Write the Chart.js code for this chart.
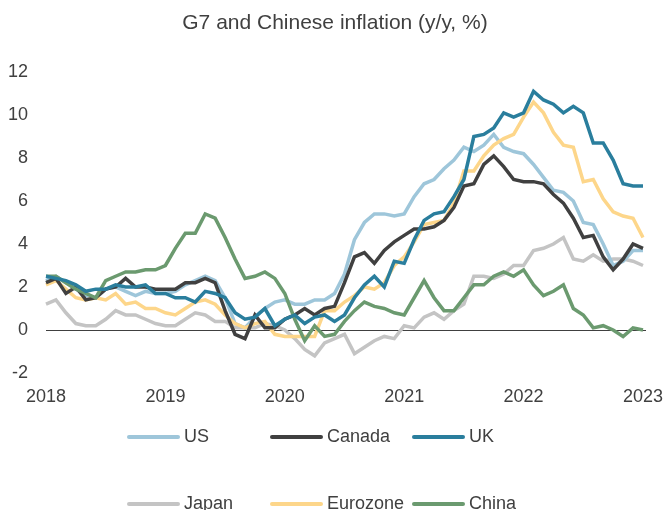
<!DOCTYPE html>
<html>
<head>
<meta charset="utf-8">
<script src="https://cdn.jsdelivr.net/npm/chart.js@4"></script>
<style>
  html, body { margin: 0; padding: 0; background: #fff; }
  #wrap { position: relative; width: 663px; height: 510px; overflow: hidden; font-family: "Liberation Sans", Arial, sans-serif; }
  canvas { position: absolute; left: 0; top: 0; }
  #title { position: absolute; left: 0; top: 9px; width: 670px; text-align: center; font-size: 21px; line-height: 26px; color: #404040; white-space: nowrap; }
  .lg { position: absolute; display: flex; align-items: center; font-size: 18px; color: #404040; white-space: nowrap; }
  .sw { width: 53px; height: 4px; border-radius: 2px; margin-right: 4px; }
</style>
</head>
<body>
<div id="wrap">
  <canvas id="c" width="663" height="510"></canvas>
  <div id="title"></div>
  <div id="legend"></div>
</div>
<script>
// Monthly y/y CPI, 61 months
const months = [];
for (let i = 0; i < 61; i++) months.push('m' + i);
const yearTicks = ['2018', '2019', '2020', '2021', '2022', '2023'];
const chartTitle = 'G7 and Chinese inflation (y/y, %)';

const us = [2.3,2.5,2.2,1.9, 1.6,1.5,1.9,2.0,1.8,1.6,1.8,1.7,1.7,1.8,2.1,2.3, 2.5,2.3,1.5,0.3,0.1,0.6,1.0,1.3,1.4,1.2,1.2,1.4, 1.4,1.7,2.6,4.2,5.0,5.4,5.4,5.3,5.4,6.2,6.8,7.0, 7.5,7.9,8.5,8.3,8.6,9.1,8.5,8.3,8.2,7.7,7.1,6.5, 6.4,6.0,5.0,4.9,4.0,3.0,3.2,3.7,3.7];
const canada = [2.2,2.4,1.7,2.0, 1.4,1.5,1.9,2.0,2.4,2.0,2.0,1.9,1.9,1.9,2.2,2.2, 2.4,2.2,0.9,-0.2,-0.4,0.7,0.1,0.1,0.5,0.7,1.0,0.7, 1.0,1.1,2.2,3.4,3.6,3.1,3.7,4.1,4.4,4.7,4.7,4.8, 5.1,5.7,6.7,6.8,7.7,8.1,7.6,7.0,6.9,6.9,6.8,6.3, 5.9,5.2,4.3,4.4,3.4,2.8,3.3,4.0,3.8];
const uk = [2.5,2.4,2.3,2.1, 1.8,1.9,1.9,2.1,2.0,2.0,2.1,1.7,1.7,1.5,1.5,1.3, 1.8,1.7,1.5,0.8,0.5,0.6,1.0,0.2,0.5,0.7,0.3,0.6, 0.7,0.4,0.7,1.5,2.1,2.5,2.0,3.2,3.1,4.2,5.1,5.4, 5.5,6.2,7.0,9.0,9.1,9.4,10.1,9.9,10.1,11.1,10.7,10.5, 10.1,10.4,10.1,8.7,8.7,7.9,6.8,6.7,6.7];
const japan = [1.2,1.4,0.8,0.3, 0.2,0.2,0.5,0.9,0.7,0.7,0.5,0.3,0.2,0.2,0.5,0.8, 0.7,0.4,0.4,0.1,0.1,0.1,0.3,0.2,0.0,-0.4,-0.9,-1.2, -0.6,-0.4,-0.2,-1.1,-0.8,-0.5,-0.3,-0.4,0.2,0.1,0.6,0.8, 0.5,0.9,1.2,2.5,2.5,2.4,2.6,3.0,3.0,3.7,3.8,4.0, 4.3,3.3,3.2,3.5,3.2,3.3,3.3,3.2,3.0];
const eurozone = [2.1,2.3,1.9,1.5, 1.4,1.5,1.4,1.7,1.2,1.3,1.0,1.0,0.8,0.7,1.0,1.3, 1.4,1.2,0.7,0.3,0.1,0.3,0.4,-0.2,-0.3,-0.3,-0.3,-0.3, 0.9,0.9,1.3,1.6,2.0,1.9,2.2,3.0,3.4,4.1,4.9,5.0, 5.1,5.9,7.4,7.4,8.1,8.6,8.9,9.1,9.9,10.6,10.1,9.2, 8.6,8.5,6.9,7.0,6.1,5.5,5.3,5.2,4.3];
const china = [2.5,2.5,2.2,1.9, 1.7,1.5,2.3,2.5,2.7,2.7,2.8,2.8,3.0,3.8,4.5,4.5, 5.4,5.2,4.3,3.3,2.4,2.5,2.7,2.4,1.7,0.5,-0.5,0.2, -0.3,-0.2,0.4,0.9,1.3,1.1,1.0,0.8,0.7,1.5,2.3,1.5, 0.9,0.9,1.5,2.1,2.1,2.5,2.7,2.5,2.8,2.1,1.6,1.8, 2.1,1.0,0.7,0.1,0.2,0.0,-0.3,0.1,0.0];

const seriesNames = ['US', 'Canada', 'UK', 'Japan', 'Eurozone', 'China'];
const seriesData = [us, canada, uk, japan, eurozone, china];
const seriesColors = ['#9ec6da', '#404040', '#2a7e9d', '#c4c4c4', '#fdd68a', '#6b9a6f'];
const drawOrder = [5, 3, 1, 6, 4, 2];

const datasets = seriesNames.map((n, i) => ({
  label: n,
  data: seriesData[i],
  borderColor: seriesColors[i],
  backgroundColor: seriesColors[i],
  borderWidth: 3.5,
  pointRadius: 0,
  tension: 0,
  fill: false,
  order: drawOrder[i]
}));

const zeroLine = {
  id: 'zeroLine',
  beforeDatasetsDraw(chart) {
    const { ctx, chartArea, scales } = chart;
    const y = Math.round(scales.y.getPixelForValue(0)) + 0.5;
    ctx.save();
    ctx.strokeStyle = '#404040';
    ctx.lineWidth = 1;
    ctx.beginPath();
    ctx.moveTo(chartArea.left, y);
    ctx.lineTo(chartArea.right + 3, y);
    ctx.stroke();
    ctx.restore();
  }
};

const FONT = '"Liberation Sans", Arial, sans-serif';

document.getElementById('title').textContent = chartTitle;

new Chart(document.getElementById('c'), {
  type: 'line',
  data: { labels: months, datasets },
  options: {
    responsive: false,
    animation: false,
    layout: { padding: { left: 0, right: 20, top: 72, bottom: 0 } },
    plugins: {
      legend: { display: false },
      tooltip: { enabled: false },
      title: { display: false }
    },
    scales: {
      x: {
        offset: false,
        grid: { display: false, drawTicks: false },
        border: { display: false },
        ticks: {
          autoSkip: false,
          maxRotation: 0,
          padding: 13,
          color: '#404040',
          font: { family: FONT, size: 18 },
          callback: (v, i) => (i % 12 === 0 ? yearTicks[i / 12] : '')
        },
        afterFit: (s) => { s.height = 137; s.paddingLeft = 0; s.paddingRight = 0; }
      },
      y: {
        min: -2,
        max: 12,
        grid: { display: false, drawTicks: false },
        border: { display: false },
        ticks: {
          stepSize: 2,
          padding: 18,
          color: '#404040',
          font: { family: FONT, size: 18 }
        },
        afterFit: (s) => { s.width = 46; }
      }
    }
  },
  plugins: [zeroLine]
});

// HTML legend (3 columns, 2 rows)
const legendPos = [[127, 437], [270, 437], [412, 437], [127, 504], [270, 504], [412, 504]];
const lg = document.getElementById('legend');
seriesNames.forEach((n, i) => {
  const d = document.createElement('div');
  d.className = 'lg';
  d.style.left = legendPos[i][0] + 'px';
  d.style.top = (legendPos[i][1] - 11) + 'px';
  d.innerHTML = '<span class="sw" style="background:' + seriesColors[i] + '"></span><span>' + n + '</span>';
  lg.appendChild(d);
});
</script>
</body>
</html>
